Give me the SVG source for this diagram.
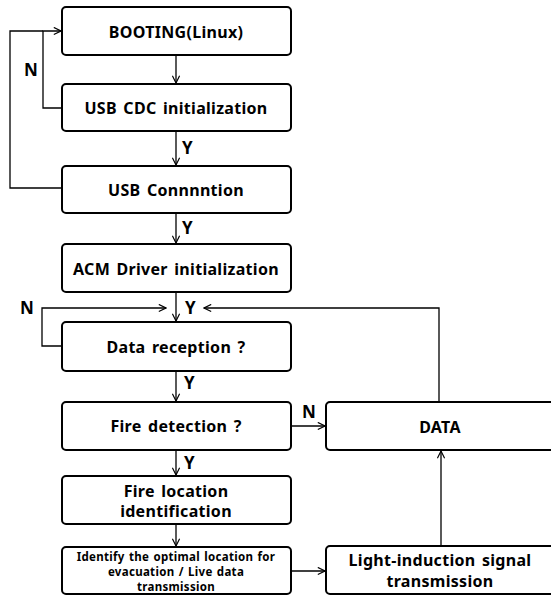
<svg xmlns="http://www.w3.org/2000/svg" width="551" height="595" viewBox="0 0 551 595">
<style>
.box{fill:#fff;stroke:#000;stroke-width:2}
.t{font-family:"Noto Sans",sans-serif;font-weight:bold;font-size:16px;letter-spacing:0.3px;word-spacing:2px;text-anchor:middle;fill:#000}
.s{font-family:"Noto Sans",sans-serif;font-weight:bold;font-size:11.5px;letter-spacing:0.3px;word-spacing:1px;text-anchor:middle;fill:#000}
.l{font-family:"Noto Sans",sans-serif;font-weight:bold;font-size:17px;fill:#000}
.c{fill:none;stroke:#000;stroke-width:1.3}
</style>
<defs>
<marker id="a" viewBox="0 0 10 10" refX="9" refY="5" markerWidth="9" markerHeight="9" markerUnits="userSpaceOnUse" orient="auto">
<path d="M1,1 L9,5 L1,9" fill="none" stroke="#000" stroke-width="1.3"/>
</marker>
</defs>
<g id="connectors">
<path class="c" d="M176,55 V83" marker-end="url(#a)"/>
<path class="c" d="M176,131 V165" marker-end="url(#a)"/>
<path class="c" d="M176,213 V243" marker-end="url(#a)"/>
<path class="c" d="M176,292 V321" marker-end="url(#a)"/>
<path class="c" d="M176,371 V401" marker-end="url(#a)"/>
<path class="c" d="M176,450 V475" marker-end="url(#a)"/>
<path class="c" d="M176,524 V546" marker-end="url(#a)"/>
<path class="c" d="M62,108 H43 V31 H61" marker-end="url(#a)"/>
<path class="c" d="M62,188 H10 V31 H43"/>
<path class="c" d="M62,346 H42 V308 H166" marker-end="url(#a)"/>
<path class="c" d="M439,402 V308 H204" marker-end="url(#a)"/>
<path class="c" d="M291,426 H325" marker-end="url(#a)"/>
<path class="c" d="M291,571 H325" marker-end="url(#a)"/>
<path class="c" d="M441,546 V451" marker-end="url(#a)"/>
<text class="l" x="24" y="76">N</text>
<text class="l" x="182" y="154">Y</text>
<text class="l" x="182" y="234">Y</text>
<text class="l" x="20" y="314">N</text>
<text class="l" x="185" y="314">Y</text>
<text class="l" x="184" y="389">Y</text>
<text class="l" x="184" y="469">Y</text>
<text class="l" x="302" y="418">N</text>
</g>
<g id="booting"><rect class="box" x="62" y="7" width="229" height="48" rx="4"/><text class="t" x="176" y="38">BOOTING(Linux)</text></g>
<g id="usbcdc"><rect class="box" x="62" y="84" width="229" height="47" rx="4"/><text class="t" x="176" y="114">USB CDC initialization</text></g>
<g id="usbconn"><rect class="box" x="62" y="166" width="229" height="47" rx="4"/><text class="t" x="176" y="196">USB Connnntion</text></g>
<g id="acm"><rect class="box" x="62" y="244" width="229" height="48" rx="4"/><text class="t" x="176" y="275">ACM Driver initialization</text></g>
<g id="datarecv"><rect class="box" x="62" y="322" width="229" height="49" rx="4"/><text class="t" x="176" y="353">Data reception ?</text></g>
<g id="firedet"><rect class="box" x="62" y="402" width="229" height="48" rx="4"/><text class="t" x="176" y="432">Fire detection ?</text></g>
<g id="fireloc"><rect class="box" x="62" y="476" width="229" height="48" rx="4"/><text class="t" x="176" y="497">Fire location</text><text class="t" x="176" y="517">identification</text></g>
<g id="identify"><rect class="box" x="62" y="547" width="229" height="47" rx="4"/><text class="s" x="176" y="560.5">Identify the optimal location for</text><text class="s" x="176" y="576">evacuation / Live data</text><text class="s" x="176" y="591">transmission</text></g>
<g id="data"><rect class="box" x="326" y="402" width="232" height="48" rx="4"/><text class="t" x="440" y="432.5">DATA</text></g>
<g id="light"><rect class="box" x="326" y="546" width="232" height="48" rx="4"/><text class="t" x="440" y="566">Light-induction signal</text><text class="t" x="440" y="587">transmission</text></g>
</svg>
